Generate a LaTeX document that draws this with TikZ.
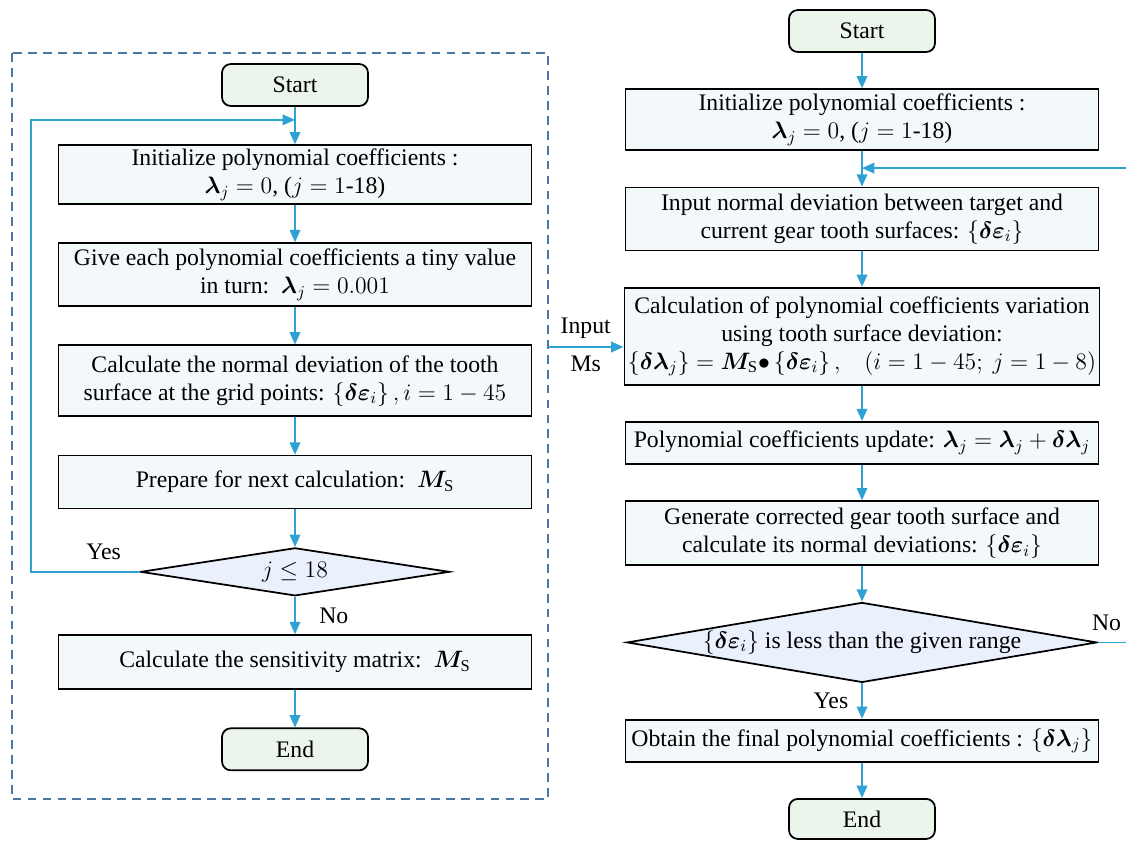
\RequirePackage{fix-cm}
\documentclass[tikz,border=0pt]{standalone}
\usepackage{amsmath}
\usepackage{amssymb}
\usepackage{bm}
\usepackage{fontspec}
\setmainfont{Liberation Serif}
\usepackage{xcolor}
\usetikzlibrary{positioning,shapes.geometric,arrows.meta,calc}

\definecolor{boxfill}{HTML}{F3F9FA}
\definecolor{termfill}{HTML}{EBF5EC}
\definecolor{decfill}{HTML}{EBF1FC}
\definecolor{flowblue}{HTML}{2EA3D3}
\definecolor{frameblue}{HTML}{4A76A8}
\newcommand{\boxfont}{\fontsize{13.5}{16}\selectfont}
\newcommand{\deps}{\left\{\bm{\delta\varepsilon}_i\right\}}
\newcommand{\dlam}{\left\{\bm{\delta\lambda}_j\right\}}
\newcommand{\Ms}{\bm{M}_{\mathrm{S}}}

\begin{document}
\begin{tikzpicture}[
    x=0.02cm, y=0.02cm,
    box/.style={
        rectangle,
        draw=black, line width=1pt,
        fill=boxfill,
        minimum width=9.46cm,       % same width for all boxes
        inner sep=2pt,
        align=center,
        font=\boxfont
    },
    term/.style={
        rectangle, rounded corners=5pt,
        draw=black, line width=1pt,
        fill=termfill,
        minimum width=2.92cm, minimum height=0.84cm,
        font=\boxfont
    },
    decision/.style={
        diamond, aspect=6,
        draw=black, line width=1pt,
        fill=decfill, inner sep=0pt,
        font=\boxfont
    },
    arrow/.style={->, line width=1pt, draw=flowblue, >={Triangle[length=7pt, width=6pt]}},
    frame/.style={draw=frameblue, line width=1.1pt, dash pattern=on 5pt off 3.5pt},
    node distance=0.75cm
]
\useasboundingbox (0,0) rectangle (1126,-840);

% --- Left: sensitivity matrix ---
\draw[frame] (12,-53) rectangle (548,-799);
\node[term] (startL) at (295,-85) {Start};
\node[box, below=of startL, minimum height=1.14cm] (initL)
    {Initialize polynomial coefficients :\\ $\bm{\lambda}_j = 0$, ($j = 1$-18)};
\node[box, below=of initL, minimum height=1.26cm] (tinyL)
    {Give each polynomial coefficients a tiny value\\ in turn:\enspace $\bm{\lambda}_j = 0.001$};
\node[box, below=of tinyL, minimum height=1.42cm] (devL)
    {Calculate the normal deviation of the tooth\\ surface at the grid points: $\deps, i = 1-45$};
\node[box, below=of devL, minimum height=1.06cm] (prepL)
    {Prepare for next calculation:\enspace $\Ms$};
\node[decision, below=of prepL, minimum width=6.18cm, minimum height=0.96cm] (checkL)
    {$j \le 18$};
\node[box, below=of checkL, minimum height=1.08cm] (sensL)
    {Calculate the sensitivity matrix:\enspace $\Ms$};
\node[term, below=of sensL] (endL) {End};

\coordinate (loopL) at ($(startL.south)+(0,-13)$);
\draw[arrow] (startL) -- (initL);
\draw[arrow] (initL) -- (tinyL);
\draw[arrow] (tinyL) -- (devL);
\draw[arrow] (devL) -- (prepL);
\draw[arrow] (prepL) -- (checkL);
\draw[arrow] (checkL) -- node[right=10pt, font=\boxfont] {No} (sensL);
\draw[arrow] (sensL) -- (endL);
\draw[arrow] (checkL.west) -- node[pos=0.33, above=3pt, font=\boxfont] {Yes} ++(-109,0) |- (loopL);

% --- Right: correction loop ---
\begin{scope}[node distance=0.71cm]
\node[term] (startR) at (862,-31) {Start};
\node[box, below=of startR, minimum height=1.22cm] (initR)
    {Initialize polynomial coefficients :\\ $\bm{\lambda}_j = 0$, ($j = 1$-18)};
\node[box, below=of initR, minimum height=1.26cm] (inR)
    {Input normal deviation between target and\\ current gear tooth surfaces: $\deps$};
\node[box, below=of inR, minimum height=1.94cm] (calcR)
    {Calculation of polynomial coefficients variation\\ using tooth surface deviation:\\
     $\dlam = \Ms{\bullet}\deps,\;\;\; (i = 1-45;\ j = 1-8)$};
\node[box, below=of calcR, minimum height=0.84cm] (updR)
    {Polynomial coefficients update: $\bm{\lambda}_j = \bm{\lambda}_j + \bm{\delta\lambda}_j$};
\node[box, below=of updR, minimum height=1.28cm] (genR)
    {Generate corrected gear tooth surface and\\ calculate its normal deviations: $\deps$};
\node[decision, below=of genR, minimum width=9.4cm, minimum height=1.6cm] (checkR)
    {$\deps$ is less than the given range};
\node[box, below=of checkR, minimum height=0.84cm] (finR)
    {Obtain the final polynomial coefficients : $\dlam$};
\node[term, below=of finR, minimum height=0.8cm] (endR) {End};
\end{scope}

\coordinate (loopR) at ($(initR.south)+(0,-17)$);
\coordinate (inp) at (548,-347);
\draw[arrow] (startR) -- (initR);
\draw[arrow] (initR) -- (inR);
\draw[arrow] (inR) -- (calcR);
\draw[arrow] (calcR) -- (updR);
\draw[arrow] (updR) -- (genR);
\draw[arrow] (genR) -- (checkR);
\draw[arrow] (checkR) -- node[left=4pt, font=\boxfont] {Yes} (finR);
\draw[arrow] (finR) -- (endR);
\draw[arrow] (checkR.east) -- node[pos=0.25, above=3pt, font=\boxfont] {No} ++(35,0) |- (loopR);
\draw[arrow] (inp) -- node[above=1pt, font=\boxfont] {Input} node[below=1pt, font=\boxfont] {Ms} (inp -| calcR.west);

\end{tikzpicture}
\end{document}
